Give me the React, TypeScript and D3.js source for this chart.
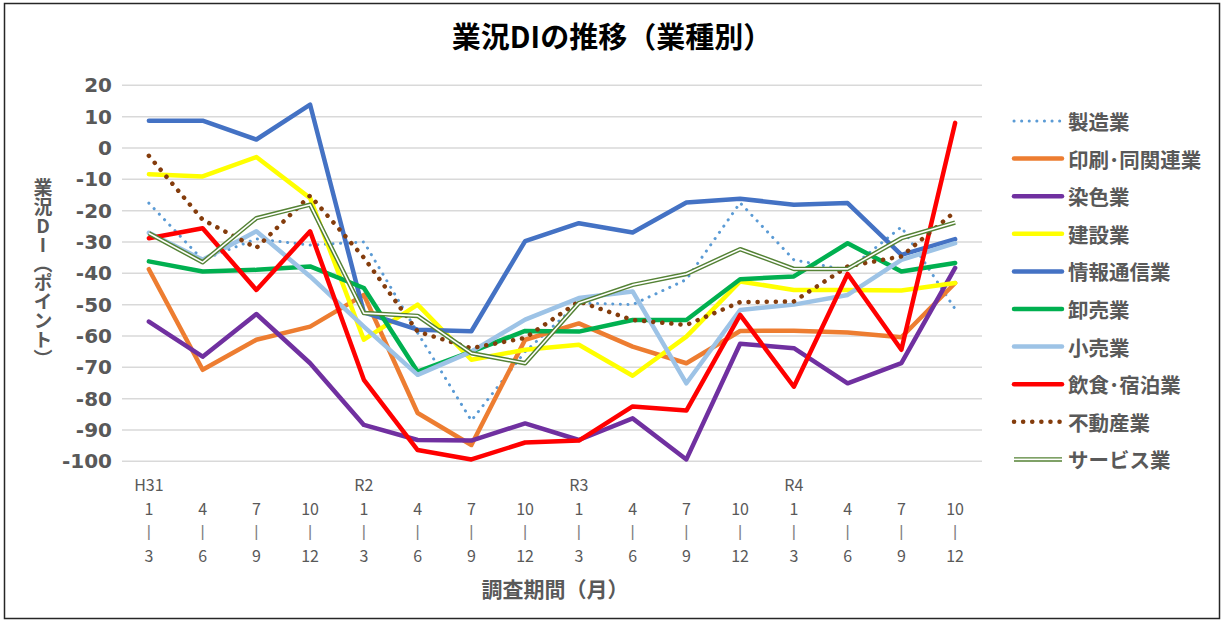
import React from "react";
import * as d3 from "d3";

const eras = ["H31", "", "", "", "R2", "", "", "", "R3", "", "", "", "R4", "", "", ""];
const monthStart = ["1", "4", "7", "10", "1", "4", "7", "10", "1", "4", "7", "10", "1", "4", "7", "10"];
const monthEnd = ["3", "6", "9", "12", "3", "6", "9", "12", "3", "6", "9", "12", "3", "6", "9", "12"];
const yTicks = [20, 10, 0, -10, -20, -30, -40, -50, -60, -70, -80, -90, -100];

const seizo = [-17.6, -35.7, -29, -31, -30, -59, -87, -65, -49.5, -50, -42, -17.5, -35.7, -39, -25.2, -51.4];
const insatsu = [-38.7, -70.8, -61.2, -57, -46.9, -84.6, -94.8, -61.2, -56, -63.4, -68.7, -58.4, -58.3, -58.9, -60.4, -43.1];
const senshoku = [-55.4, -66.6, -53, -68.7, -88.4, -93.2, -93.4, -87.9, -93.2, -86.3, -99.4, -62.5, -63.9, -75.1, -68.7, -38.3];
const kensetsu = [-8.4, -9.1, -2.9, -16, -61.2, -50, -67.6, -64.4, -62.8, -72.7, -60.2, -42.6, -45.3, -45.3, -45.5, -43.1];
const joho = [8.7, 8.7, 2.7, 13.8, -52.5, -58, -58.5, -29.7, -24, -27, -17.4, -16.2, -18.1, -17.6, -34.1, -29.1];
const oroshi = [-36.2, -39.4, -38.9, -37.8, -44.7, -71.4, -65, -58.4, -58.6, -54.9, -54.9, -41.9, -41, -30.4, -39.4, -36.7];
const kouri = [-27.1, -35.7, -26.6, -41, -57, -72.4, -65, -54.8, -47.9, -45.8, -75.1, -51.7, -50, -46.9, -35.7, -30.4];
const inshoku = [-28.8, -25.6, -45.3, -26.6, -74, -96.4, -99.4, -94, -93.4, -82.5, -83.8, -53.3, -76.2, -40.2, -64.4, 8];
const fudosan = [-2.5, -22.9, -31.9, -15.2, -35, -58.6, -63.9, -60.6, -49, -54.9, -56.5, -49.2, -49, -37.8, -34.6, -20.3];
const service = [-27.2, -36.5, -22.4, -18.1, -52.7, -53.6, -65.5, -68.7, -49.5, -43.7, -40.2, -32.3, -38.6, -38.6, -28.8, -23.8];

type Style = "dotS" | "solid" | "dotL" | "double";
const seriesNames = ["製造業", "印刷･同関連業", "染色業", "建設業", "情報通信業", "卸売業", "小売業", "飲食･宿泊業", "不動産業", "サービス業"];
const seriesValues = [seizo, insatsu, senshoku, kensetsu, joho, oroshi, kouri, inshoku, fudosan, service];
const seriesColors = ["#5B9BD5", "#ED7D31", "#7030A0", "#FFFF00", "#4472C4", "#00B050", "#9DC3E6", "#FF0000", "#843C0C", "#548235"];
const seriesStyles: Style[] = ["dotS", "solid", "solid", "solid", "solid", "solid", "solid", "solid", "dotL", "double"];

const W = 1225;
const H = 623;
const PL = 122;
const PR = 982;
const PT = 85.3;
const PB = 461.3;

const JP = "'Noto Sans CJK JP', 'Noto Sans', sans-serif";
const NUM = "'DejaVu Sans', 'Noto Sans CJK JP', sans-serif";
const GRAY = "#595959";

export default function App() {
  const idx = d3.range(eras.length);
  const x = d3.scaleBand<number>().domain(idx).range([PL, PR]);
  const cx = (i: number) => (x(i) as number) + x.bandwidth() / 2;
  const y = d3.scaleLinear().domain([-100, 20]).range([PB, PT]);
  const line = d3
    .line<number>()
    .x((_, i) => cx(i))
    .y((d) => y(d));

  const renderLine = (color: string, style: Style, key: string, path: string) => {
    if (style === "dotS")
      return (
        <path key={key} d={path} fill="none" stroke={color} strokeWidth={3} strokeLinecap="round" strokeDasharray="0.1 7.5" />
      );
    if (style === "dotL")
      return (
        <path key={key} d={path} fill="none" stroke={color} strokeWidth={4.5} strokeLinecap="round" strokeDasharray="0.1 9" />
      );
    if (style === "double")
      return (
        <g key={key}>
          <path d={path} fill="none" stroke={color} strokeWidth={4.5} strokeLinejoin="round" />
          <path d={path} fill="none" stroke="#FFFFFF" strokeWidth={1.6} strokeLinejoin="round" />
        </g>
      );
    return <path key={key} d={path} fill="none" stroke={color} strokeWidth={4.5} strokeLinejoin="round" strokeLinecap="round" />;
  };

  const legY0 = 121;
  const legStep = 37.6;

  return (
    <div style={{ position: "fixed", left: 0, top: 0, width: W, height: H, background: "#fff" }}>
      <svg width={W} height={H} viewBox={`0 0 ${W} ${H}`} style={{ display: "block" }}>
        <rect x={0} y={0} width={W} height={H} fill="#FFFFFF" />
        <rect x={4.5} y={3.5} width={1215} height={615} fill="none" stroke="#262626" strokeWidth={1.5} />
        <text x={612} y={48} textAnchor="middle" fontFamily={JP} fontWeight={700} fontSize={29} fill="#000">
          業況DIの推移（業種別）
        </text>
        {yTicks.map((t) => (
          <g key={t}>
            <line x1={PL} x2={PR} y1={y(t)} y2={y(t)} stroke="#D9D9D9" strokeWidth={1.5} />
            <text x={112} y={y(t)} textAnchor="end" dominantBaseline="central" fontFamily={NUM} fontWeight={700} fontSize={20} fill={GRAY}>
              {t}
            </text>
          </g>
        ))}
        {idx.map((i) => (
          <g key={i} fontFamily={JP} fontSize={16} fill={GRAY} textAnchor="middle">
            {eras[i] && (
              <text x={cx(i)} y={484} dominantBaseline="central">
                {eras[i]}
              </text>
            )}
            <text x={cx(i)} y={508} dominantBaseline="central">
              {monthStart[i]}
            </text>
            <text x={cx(i)} y={531} dominantBaseline="central" fontFamily="'Liberation Sans', Arial, sans-serif" fill="#7f7f7f">
              |
            </text>
            <text x={cx(i)} y={555} dominantBaseline="central">
              {monthEnd[i]}
            </text>
          </g>
        ))}
        <text x={555} y={588} textAnchor="middle" dominantBaseline="central" fontFamily={JP} fontWeight={700} fontSize={21} fill={GRAY}>
          調査期間（月）
        </text>
        <text
          x={43}
          y={178}
          fontFamily={JP}
          fontWeight={700}
          fontSize={19}
          fill={GRAY}
          style={{ writingMode: "vertical-rl", textOrientation: "upright" } as React.CSSProperties}
        >
          業況DI（ポイント）
        </text>
        {seriesValues.map((vals, s) => renderLine(seriesColors[s], seriesStyles[s], "s" + s, line(vals) as string))}
        {seriesNames.map((n, s) => {
          const ly = legY0 + s * legStep;
          const p = `M1014,${ly}L1062,${ly}`;
          return (
            <g key={n}>
              {renderLine(seriesColors[s], seriesStyles[s], "l" + s, p)}
              <text x={1068} y={ly} dominantBaseline="central" fontFamily={JP} fontWeight={700} fontSize={20.5} fill={GRAY}>
                {n}
              </text>
            </g>
          );
        })}
      </svg>
    </div>
  );
}
